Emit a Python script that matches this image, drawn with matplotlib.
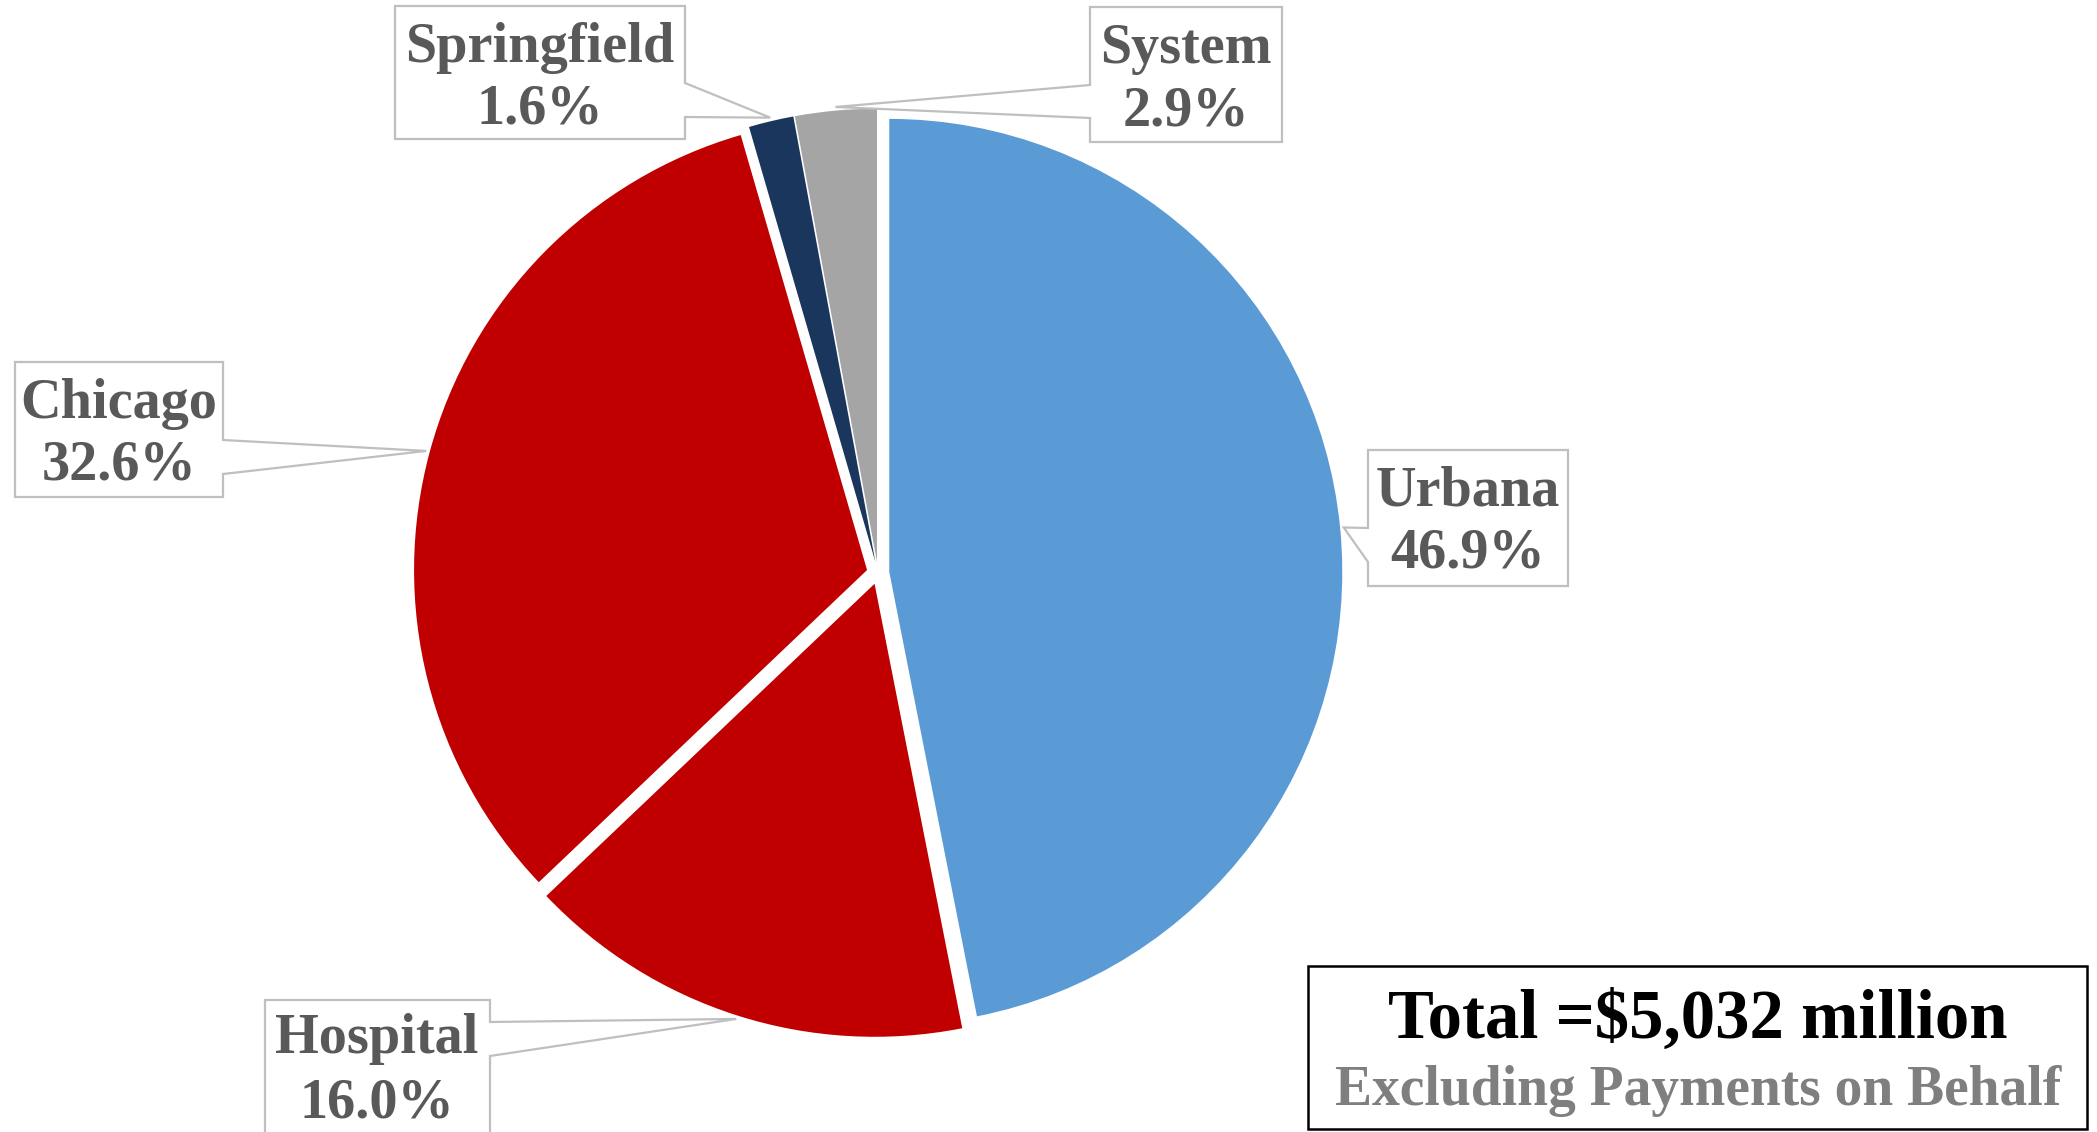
import numpy as np
import matplotlib
matplotlib.use("Agg")
import matplotlib.pyplot as plt
from matplotlib.patches import Polygon, Rectangle

# ---- data ----
categories = ["Urbana", "Hospital", "Chicago", "Springfield", "System"]
shares = [46.9, 16.0, 32.6, 1.6, 2.9]
colors = ["#5B9BD5", "#C00000", "#C00000", "#1B365D", "#A5A5A5"]
total_text = "Total =$5,032 million"
note_text = "Excluding Payments on Behalf"

W, H = 2097, 1132
CX, CY, R = 878, 573, 453          # pixel layout of the pie
EXPLODE = 0.025                    # fraction of radius

def Y(y):
    return H - y

fig = plt.figure(figsize=(W / 100, H / 100), dpi=100)
ax = fig.add_axes([0, 0, 1, 1])

ax.pie(shares, colors=colors, startangle=90, counterclock=False,
       explode=[EXPLODE * R] * len(shares), center=(CX, Y(CY)), radius=R,
       wedgeprops=dict(linewidth=0), frame=False)
ax.set_xlim(0, W)
ax.set_ylim(0, H)
ax.set_aspect("auto")
ax.axis("off")

# mid angles of wedges from the data
tot = sum(shares)
cum = np.cumsum([0] + shares[:-1])
mids = [90 - 360 * (c + v / 2) / tot for c, v in zip(cum, shares)]

# label box layouts: (left, top, right, bottom, side, notch_y1, notch_y2, text_x, base1, base2)
layout = {
    "Urbana":      (1368, 450, 1568, 586, "left", 528, 562, 1468, 505, 568),
    "Hospital":    (265, 1000, 490, 1150, "right", 1022, 1056, 377, 1053, 1117),
    "Chicago":     (15, 362, 223, 497, "right", 440, 474, 119, 418, 480),
    "Springfield": (395, 6, 685, 139, "right", 83, 117, 540, 62, 124),
    "System":      (1090, 7, 1282, 142, "left", 85, 118, 1186, 63, 125),
}

TIP_R = R * 1.033
label_color = "#595959"
font = "Liberation Serif"

for cat, val, mid in zip(categories, shares, mids):
    l, t, r, b, side, n1, n2, tx, b1, b2 = layout[cat]
    a = np.deg2rad(mid)
    tipx = CX + TIP_R * np.cos(a)
    tipy = CY - TIP_R * np.sin(a)
    if side == "right":
        pts = [(l, t), (r, t), (r, n1), (tipx, tipy), (r, n2), (r, b), (l, b)]
    else:
        pts = [(l, t), (r, t), (r, b), (l, b), (l, n2), (tipx, tipy), (l, n1)]
    poly = Polygon([(x, Y(y)) for x, y in pts], closed=True, facecolor="white",
                   edgecolor="#BFBFBF", linewidth=1.6, zorder=5)
    ax.add_patch(poly)
    ax.text(tx, Y(b1), cat, ha="center", va="baseline", fontsize=40.5,
            fontweight="bold", family=font, color=label_color, zorder=6)
    ax.text(tx, Y(b2), f"{val:.1f}%", ha="center", va="baseline", fontsize=40.5,
            fontweight="bold", family=font, color=label_color, zorder=6)

# total box
ax.add_patch(Rectangle((1308, Y(1129)), 2087 - 1308, 1129 - 966, facecolor="white",
                       edgecolor="black", linewidth=1.8, zorder=5))
ax.text(1698, Y(1038), total_text, ha="center", va="baseline", fontsize=49.5,
        fontweight="bold", family=font, color="black", zorder=6)
ax.text(1698, Y(1105), note_text, ha="center", va="baseline", fontsize=40,
        fontweight="bold", family=font, color="#7F7F7F", zorder=6)

fig.savefig("out.png", dpi=100, facecolor="white")
